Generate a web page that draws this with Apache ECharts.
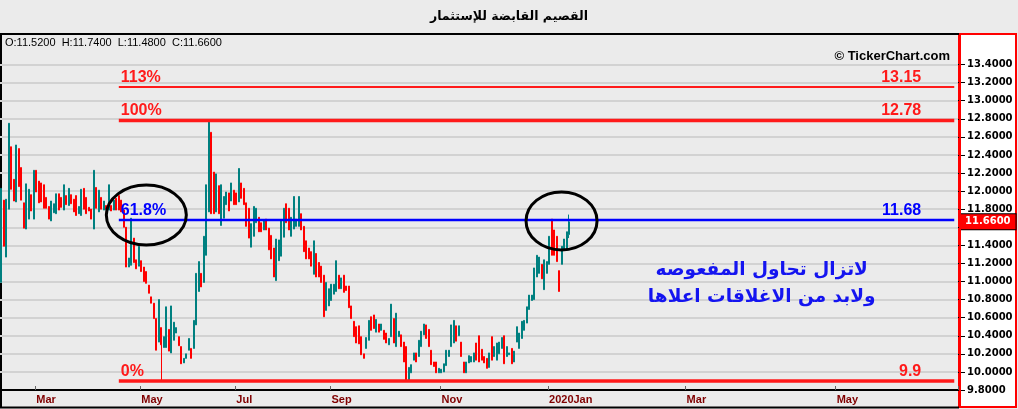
<!DOCTYPE html>
<html><head><meta charset="utf-8">
<script src="https://cdn.jsdelivr.net/npm/echarts/dist/echarts.min.js"></script>
<style>html,body{margin:0;padding:0;background:#ebebeb;overflow:hidden}#c{width:1018px;height:409px}</style>
</head><body><div id="c"></div><script>
// ---- data (daily bars) ----
const opens = [10.99,11.90,11.27,11.80,12.49,12.13,11.88,12.47,12.26,11.87,11.58,11.69,11.96,11.69,12.23,12.11,12.09,12.07,11.93,11.83,
11.67,11.76,11.75,11.97,11.93,11.79,11.95,11.84,11.96,11.91,11.95,11.75,11.73,12.03,11.93,11.82,11.80,11.58,12.04,11.77,
11.93,11.79,11.84,11.79,11.84,11.79,11.92,11.95,11.90,11.79,11.60,11.16,11.18,11.48,11.24,11.17,11.23,11.16,11.11,10.96,
10.83,10.76,10.59,10.33,10.49,10.27,10.27,10.47,10.21,10.35,10.43,10.39,10.28,10.10,10.15,10.24,10.26,10.26,10.52,10.89,
11.09,10.99,11.29,11.77,12.65,12.21,11.77,12.06,11.62,11.70,11.85,11.98,11.89,12.01,11.98,11.88,12.09,12.03,11.87,11.81,
11.38,11.50,11.65,11.71,11.65,11.57,11.69,11.59,11.51,11.37,11.01,11.23,11.28,11.49,11.86,11.81,11.50,11.58,11.61,11.61,
11.75,11.61,11.45,11.37,11.33,11.08,11.31,11.21,11.17,11.07,10.68,10.73,10.79,10.86,10.89,11.07,10.92,11.07,10.95,10.95,
10.73,10.56,10.50,10.51,10.39,10.20,10.26,10.35,10.61,10.63,10.44,10.53,10.46,10.46,10.43,10.30,10.39,10.59,10.28,10.39,
10.41,10.33,10.28,9.90,9.99,10.13,10.21,10.17,10.28,10.41,10.52,10.47,10.24,10.11,10.11,9.99,9.99,10.00,10.07,10.17,
10.28,10.32,10.51,10.40,10.33,10.11,9.99,10.10,10.11,10.11,10.32,10.40,10.25,10.17,10.15,10.05,10.39,10.17,10.13,10.20,
10.26,10.40,10.17,10.19,10.26,10.11,10.33,10.26,10.37,10.46,10.54,10.69,10.79,10.80,11.05,11.09,11.19,10.91,11.09,11.19,
11.69,11.57,11.50,11.12,11.19,11.35,11.35,11.52];
const highs = [12.03,11.90,11.91,12.75,12.49,12.13,12.51,12.47,12.26,11.87,12.08,12.02,11.96,12.23,12.23,12.11,12.09,12.07,11.93,11.83,
11.89,11.86,11.97,11.97,11.93,12.07,11.95,12.03,11.96,11.91,11.95,11.83,12.02,12.03,11.93,11.82,11.80,12.23,12.04,12.01,
11.93,11.89,11.84,12.07,11.84,11.90,11.92,11.95,11.90,11.79,11.60,11.26,11.70,11.48,11.24,11.39,11.23,11.16,11.11,10.96,
10.83,10.76,10.59,10.80,10.49,10.39,10.72,10.47,10.73,10.55,10.49,10.39,10.28,10.15,10.20,10.37,10.26,10.57,11.09,11.22,
11.09,11.50,12.07,12.78,12.65,12.21,12.19,12.06,12.07,11.94,11.99,11.98,12.09,12.01,11.98,12.25,12.09,12.03,11.87,11.81,
11.64,11.83,11.81,11.71,11.65,11.68,11.69,11.59,11.51,11.37,11.47,11.46,11.67,11.81,11.86,11.81,11.71,11.94,11.69,11.94,
11.75,11.61,11.45,11.37,11.33,11.45,11.31,11.21,11.17,11.07,10.99,10.92,10.97,10.97,11.23,11.07,11.04,11.07,10.95,10.95,
10.73,10.56,10.50,10.51,10.39,10.20,10.38,10.57,10.61,10.63,10.58,10.53,10.53,10.46,10.43,10.37,10.75,10.59,10.65,10.45,
10.41,10.33,10.28,10.05,10.08,10.21,10.21,10.35,10.45,10.53,10.52,10.47,10.24,10.11,10.11,10.04,10.03,10.09,10.24,10.24,
10.52,10.57,10.51,10.51,10.33,10.11,10.11,10.18,10.17,10.21,10.32,10.40,10.25,10.17,10.15,10.21,10.39,10.28,10.32,10.33,
10.38,10.40,10.28,10.21,10.26,10.23,10.50,10.43,10.56,10.57,10.72,10.85,10.85,11.15,11.29,11.27,11.19,11.24,11.22,11.50,
11.69,11.57,11.50,11.12,11.39,11.47,11.55,11.74];
const lows = [10.99,11.39,11.27,11.80,12.02,11.89,11.88,12.05,11.90,11.59,11.58,11.69,11.78,11.69,11.99,11.87,11.88,11.81,11.81,11.69,
11.67,11.76,11.75,11.79,11.82,11.79,11.85,11.84,11.86,11.77,11.73,11.75,11.73,11.80,11.75,11.78,11.69,11.58,11.81,11.77,
11.80,11.79,11.80,11.79,11.78,11.79,11.79,11.79,11.77,11.60,11.16,11.16,11.18,11.21,11.14,11.17,11.11,11.00,10.98,10.87,
10.76,10.59,10.24,10.33,9.90,10.27,10.27,10.23,10.21,10.35,10.43,10.29,10.09,10.10,10.15,10.24,10.15,10.26,10.52,10.89,
10.94,10.99,11.29,11.77,11.75,11.75,11.77,11.75,11.62,11.70,11.85,11.78,11.89,11.85,11.85,11.88,11.92,11.85,11.61,11.48,
11.38,11.50,11.65,11.55,11.55,11.57,11.57,11.35,11.25,11.05,11.01,11.23,11.28,11.49,11.65,11.57,11.50,11.58,11.61,11.61,
11.57,11.33,11.25,11.25,11.17,11.08,11.05,11.05,10.99,10.61,10.68,10.73,10.79,10.86,10.89,10.92,10.92,10.88,10.90,10.71,
10.59,10.39,10.32,10.31,10.19,10.15,10.26,10.35,10.46,10.48,10.44,10.44,10.46,10.36,10.32,10.30,10.39,10.32,10.28,10.39,
10.28,10.11,9.91,9.90,9.99,10.13,10.11,10.17,10.28,10.41,10.37,10.28,10.08,10.06,9.99,9.99,9.99,10.00,10.07,10.17,
10.28,10.32,10.34,10.40,10.17,9.99,9.99,10.10,10.11,10.11,10.13,10.11,10.13,10.10,10.04,10.05,10.13,10.17,10.13,10.20,
10.26,10.09,10.17,10.19,10.09,10.11,10.33,10.26,10.37,10.46,10.54,10.69,10.79,10.80,11.05,11.09,11.03,10.91,11.09,11.19,
11.29,11.29,11.22,10.89,11.19,11.35,11.35,11.48];
const closes = [12.03,11.39,11.91,12.75,12.02,11.89,12.51,12.05,11.90,11.59,12.08,12.02,11.78,12.23,11.99,11.87,11.88,11.81,11.81,11.69,
11.89,11.86,11.97,11.79,11.82,12.07,11.85,12.03,11.86,11.77,11.73,11.83,12.02,11.80,11.75,11.78,11.69,12.23,11.81,12.01,
11.80,11.89,11.80,12.07,11.78,11.90,11.79,11.79,11.77,11.60,11.16,11.26,11.70,11.21,11.14,11.39,11.11,11.00,10.98,10.87,
10.76,10.59,10.24,10.80,10.30,10.39,10.72,10.23,10.73,10.55,10.49,10.29,10.09,10.15,10.20,10.37,10.15,10.57,11.09,11.22,
10.94,11.50,12.07,12.78,11.75,11.75,12.19,11.75,12.07,11.94,11.99,11.78,12.09,11.85,11.85,12.25,11.92,11.85,11.61,11.48,
11.64,11.83,11.81,11.55,11.55,11.68,11.57,11.35,11.25,11.05,11.47,11.46,11.67,11.81,11.65,11.57,11.71,11.94,11.69,11.94,
11.57,11.33,11.25,11.25,11.17,11.45,11.05,11.05,10.99,10.61,10.99,10.92,10.97,10.97,11.23,10.92,11.04,10.88,10.90,10.71,
10.59,10.39,10.32,10.31,10.19,10.15,10.38,10.57,10.46,10.48,10.58,10.44,10.53,10.36,10.32,10.37,10.75,10.32,10.65,10.45,
10.28,10.11,9.91,10.05,10.08,10.21,10.11,10.35,10.45,10.53,10.37,10.28,10.08,10.06,9.99,10.04,10.03,10.09,10.24,10.24,
10.52,10.57,10.34,10.51,10.17,9.99,10.11,10.18,10.17,10.21,10.13,10.11,10.13,10.10,10.04,10.21,10.13,10.28,10.32,10.33,
10.38,10.09,10.28,10.21,10.09,10.23,10.50,10.43,10.56,10.57,10.72,10.85,10.85,11.15,11.29,11.27,11.03,11.24,11.22,11.50,
11.29,11.29,11.22,10.89,11.39,11.47,11.55,11.66];

const slotCount = 383;                       // trading-day slots on the time axis (incl. future space)
const tickSlots = [14, 56, 94, 132, 176, 219, 274, 334];
const tickTexts = ['Mar', 'May', 'Jul', 'Sep', 'Nov', '2020Jan', 'Mar', 'May'];
const yMin = 9.8, yMax = 13.4, yStep = 0.2;
const fibNames = ['113%', '100%', '61.8%', '0%'];
const fibPrices = [13.15, 12.78, 11.68, 9.9];
const fibStartSlot = 47, fibEndSlot = 381;
const lastPrice = 11.66;
const ohlcText = 'O:11.5200  H:11.7400  L:11.4800  C:11.6600';
const titleText = 'القصيم القابضة للإستثمار';
const noteLines = ['لاتزال تحاول المفعوصه', 'ولابد من الاغلاقات اعلاها'];
const noteSlot = 304, noteTopPrice = 11.13, noteBottomPrice = 10.83;
const circleSlots = [57.5, 224.1];
const circlePrices = [11.735, 11.67];

// ---- build ----
const categories = [];
for (let i = 0; i < slotCount; i++) categories.push('s' + i);
const labelOf = {};
tickSlots.forEach((s, i) => { labelOf['s' + s] = tickTexts[i]; });
const isTick = (idx) => tickSlots.indexOf(idx) >= 0;

const candleData = opens.map((o, i) => [o, closes[i], lows[i], highs[i]]);

const RED = '#ff1a1a', BLUE = '#0000ff';
const fibWidths = [2, 3.5, 2.5, 3.5];
const fibColors = [RED, RED, BLUE, RED];
const fibFont = '"Liberation Sans", Arial, sans-serif';
const fibLabel = (text, color, align, dx) => ({
  show: true, formatter: text, position: 'top', align: align, distance: 1, offset: [dx, 0],
  color: color, fontSize: 16, fontWeight: 'bold', fontFamily: fibFont
});
const fibSeries = fibPrices.map((p, i) => ({
  type: 'line', symbol: 'circle', symbolSize: 1, showSymbol: true, showAllSymbol: true, silent: true, z: 4,
  itemStyle: { color: 'rgba(0,0,0,0)' },
  lineStyle: { color: fibColors[i], width: fibWidths[i] },
  data: [
    { value: [fibStartSlot, p], label: fibLabel(fibNames[i], fibColors[i], 'left', 2) },
    { value: [fibEndSlot, p], label: fibLabel(String(p), fibColors[i], 'right', -33) }
  ]
}));

const chart = echarts.init(document.getElementById('c'), null, { renderer: 'canvas' });
chart.setOption({
  animation: false,
  backgroundColor: '#ebebeb',
  grid: { left: 0, right: 60, top: 64.5, bottom: 19, containLabel: false },
  xAxis: {
    type: 'category', data: categories, boundaryGap: true,
    axisLine: { show: true, lineStyle: { color: '#000', width: 2 } },
    axisTick: { show: true, inside: true, length: 4, interval: (idx) => isTick(idx), lineStyle: { color: '#666' } },
    axisLabel: {
      interval: (idx) => isTick(idx), formatter: (v) => labelOf[v] || '',
      color: '#800000', fontWeight: 'bold', fontSize: 11, fontFamily: '"Liberation Sans", Arial, sans-serif',
      align: 'left', margin: 4
    },
    splitLine: { show: false }
  },
  yAxis: {
    type: 'value', position: 'right', min: yMin, max: yMax, interval: yStep,
    axisLine: { show: false },
    axisTick: { show: true, length: 7, lineStyle: { color: '#000' } },
    axisLabel: { formatter: (v) => v.toFixed(4), color: '#000', fontWeight: 'bold', fontSize: 10, fontFamily: '"DejaVu Sans", sans-serif', margin: 9 },
    splitLine: { show: true, lineStyle: { color: '#d2d2d2', width: 2 } }
  },
  series: [{
    type: 'candlestick', data: candleData, barWidth: 1.5, z: 3,
    itemStyle: { color: '#008080', color0: '#ff0000', borderColor: '#008080', borderColor0: '#ff0000', borderWidth: 1 },
    markLine: {
      symbol: 'none', silent: true, animation: false,
      lineStyle: { color: 'rgba(0,0,0,0)', width: 0 },
      data: [{ yAxis: lastPrice }],
      label: {
        show: true, position: 'end', distance: 2, formatter: lastPrice.toFixed(4),
        color: '#fff', backgroundColor: '#ff0000', borderColor: '#000', borderWidth: 1,
        fontWeight: 'bold', fontSize: 10, fontFamily: '"DejaVu Sans", sans-serif', padding: [3, 5, 2, 5]
      }
    }
  }].concat(fibSeries)
});

const px = (slot, price) => chart.convertToPixel({ xAxisIndex: 0, yAxisIndex: 0 }, [slot, price]);
const c1 = px(circleSlots[0], circlePrices[0]);
const c2 = px(circleSlots[1], circlePrices[1]);
const n1 = px(noteSlot, noteTopPrice);
const n2 = px(noteSlot, noteBottomPrice);
const noteFont = 'bold 18.5px "DejaVu Sans", sans-serif';

chart.setOption({
  graphic: [
    { type: 'rect', z: -10, shape: { x: 959, y: 34, width: 57, height: 373 }, style: { fill: '#fff', stroke: '#ff0000', lineWidth: 2 } },
    { type: 'line', z: 50, shape: { x1: 960, y1: 33, x2: 960, y2: 408 }, style: { stroke: '#ff0000', lineWidth: 2 } },
    { type: 'line', z: -5, shape: { x1: 0, y1: 34, x2: 959, y2: 34 }, style: { stroke: '#000', lineWidth: 2 } },
    { type: 'line', z: -5, shape: { x1: 1, y1: 34, x2: 1, y2: 408 }, style: { stroke: '#000', lineWidth: 2 } },
    { type: 'line', z: -5, shape: { x1: 0, y1: 407.5, x2: 959, y2: 407.5 }, style: { stroke: '#000', lineWidth: 2 } },
    { type: 'text', z: 10, x: 509, y: 17, style: { text: titleText, fill: '#000', font: 'bold 12.5px "DejaVu Sans", sans-serif', textAlign: 'center', textVerticalAlign: 'middle' } },
    { type: 'text', z: 10, x: 5, y: 43, style: { text: ohlcText, fill: '#000', font: '11px "Liberation Sans", Arial, sans-serif', textAlign: 'left', textVerticalAlign: 'middle' } },
    { type: 'text', z: 10, x: 950, y: 56, style: { text: '© TickerChart.com', fill: '#000', font: 'bold 13px "Liberation Sans", Arial, sans-serif', textAlign: 'right', textVerticalAlign: 'middle' } },
    { type: 'ellipse', z: 10, shape: { cx: c1[0], cy: c1[1], rx: 40, ry: 30 }, style: { fill: 'none', stroke: '#000', lineWidth: 3 } },
    { type: 'ellipse', z: 10, shape: { cx: c2[0], cy: c2[1], rx: 35.5, ry: 29 }, style: { fill: 'none', stroke: '#000', lineWidth: 3 } },
    { type: 'text', z: 10, x: n1[0], y: n1[1], style: { text: noteLines[0], fill: '#1414f0', font: noteFont, textAlign: 'center', textVerticalAlign: 'middle' } },
    { type: 'text', z: 10, x: n2[0], y: n2[1], style: { text: noteLines[1], fill: '#1414f0', font: noteFont, textAlign: 'center', textVerticalAlign: 'middle' } }
  ]
});
</script></body></html>
